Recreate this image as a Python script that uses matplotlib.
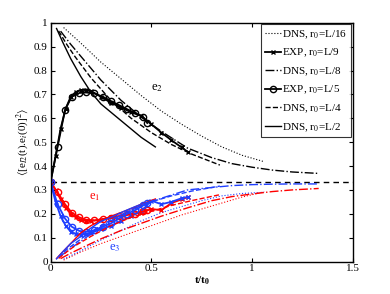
import matplotlib
matplotlib.use("Agg")
from matplotlib import pyplot as plt

plt.rcParams['font.family'] = ['Liberation Serif', 'DejaVu Serif']
plt.rcParams['mathtext.fontset'] = 'stix'

# DNS r0=L/16 (dotted)
t_l16 = [0.065, 0.15, 0.25, 0.35, 0.45, 0.55, 0.65, 0.75, 0.85, 0.95, 1.06]
e2_l16 = [0.98, 0.915, 0.835, 0.765, 0.695, 0.63, 0.575, 0.525, 0.48, 0.445, 0.418]
e1_l16 = [0.006, 0.04, 0.075, 0.105, 0.135, 0.165, 0.195, 0.22, 0.245, 0.27, 0.292]
e3_l16 = [0.01, 0.045, 0.09, 0.13, 0.17, 0.205, 0.23, 0.255, 0.275, 0.285, 0.29]

# DNS r0=L/8 (dash-dot)
t_l8 = [0.05, 0.1, 0.15, 0.25, 0.35, 0.45, 0.55, 0.68, 0.8, 0.9, 1.0, 1.1, 1.2, 1.33]
e2_l8 = [0.965, 0.91, 0.86, 0.76, 0.675, 0.605, 0.545, 0.475, 0.435, 0.41, 0.395, 0.383, 0.375, 0.369]
e1_l8 = [0.012, 0.035, 0.055, 0.095, 0.13, 0.16, 0.19, 0.225, 0.255, 0.272, 0.283, 0.293, 0.30, 0.306]
e3_l8 = [0.023, 0.055, 0.085, 0.145, 0.195, 0.235, 0.265, 0.30, 0.31, 0.318, 0.322, 0.324, 0.325, 0.325]

# DNS r0=L/4 (dashed)
t_l4 = [0.04, 0.08, 0.12, 0.2, 0.3, 0.4, 0.5, 0.6, 0.7, 0.84]
e2_l4 = [0.966, 0.91, 0.86, 0.77, 0.675, 0.60, 0.54, 0.49, 0.45, 0.404]
e1_l4 = [0.013, 0.04, 0.065, 0.105, 0.15, 0.185, 0.21, 0.235, 0.255, 0.28]
e3_l4 = [0.02, 0.05, 0.075, 0.125, 0.175, 0.215, 0.25, 0.275, 0.295, 0.316]

# DNS r0=L/2 (solid)
t_l2 = [0.03, 0.06, 0.1, 0.15, 0.2, 0.25, 0.3, 0.35, 0.4, 0.45, 0.52]
e2_l2 = [0.976, 0.92, 0.85, 0.775, 0.71, 0.66, 0.625, 0.59, 0.555, 0.52, 0.48]
e1_l2 = [0.013, 0.04, 0.075, 0.12, 0.15, 0.172, 0.19, 0.205, 0.222, 0.24, 0.262]
e3_l2 = [0.011, 0.04, 0.075, 0.105, 0.14, 0.168, 0.185, 0.205, 0.223, 0.24, 0.258]

# EXP r0=L/9 (x markers)
t_x9 = [0, 0.025, 0.05, 0.075, 0.1, 0.125, 0.15, 0.175, 0.2, 0.25, 0.3, 0.35, 0.4, 0.45, 0.5, 0.55, 0.6, 0.65, 0.68]
e2_x9 = [0.333, 0.44, 0.557, 0.64, 0.69, 0.71, 0.718, 0.72, 0.715, 0.69, 0.665, 0.645, 0.625, 0.61, 0.575, 0.54, 0.508, 0.478, 0.46]
e1_x9 = [0.333, 0.3, 0.26, 0.225, 0.2, 0.185, 0.175, 0.17, 0.17, 0.175, 0.185, 0.19, 0.2, 0.205, 0.22, 0.215, 0.245, 0.26, 0.27]
e3_x9 = [0.333, 0.25, 0.19, 0.15, 0.125, 0.115, 0.112, 0.115, 0.12, 0.135, 0.15, 0.17, 0.19, 0.21, 0.255, 0.24, 0.25, 0.265, 0.27]

# EXP r0=L/5 (circles)
t_x5 = [0, 0.035, 0.072, 0.105, 0.143, 0.176, 0.217, 0.26, 0.30, 0.34, 0.38, 0.42, 0.46, 0.48]
e2_x5 = [0.333, 0.48, 0.635, 0.69, 0.706, 0.708, 0.704, 0.69, 0.672, 0.655, 0.638, 0.622, 0.605, 0.58]
e1_x5 = [0.333, 0.29, 0.24, 0.205, 0.185, 0.175, 0.172, 0.178, 0.183, 0.19, 0.195, 0.2, 0.21, 0.215]
e3_x5 = [0.333, 0.24, 0.18, 0.146, 0.128, 0.125, 0.13, 0.146, 0.16, 0.18, 0.2, 0.215, 0.235, 0.245]

red = '#ff0000'
blue = '#1f3fff'

fig = plt.figure(figsize=(3.9, 2.94), dpi=100)
ax = fig.add_axes([0.1295, 0.1105, 0.7755, 0.812])

ax.axhline(1 / 3, color='k', ls=(0, (4, 3)), lw=1.0)

h1, = ax.plot(t_l16, e2_l16, color='k', ls=':', lw=0.8, label='DNS, r$_0$=L/16')
ax.plot(t_l16, e1_l16, color=red, ls=':', lw=0.8)
ax.plot(t_l16, e3_l16, color=blue, ls=':', lw=0.8)

h2, = ax.plot(t_x9, e2_x9, color='k', ls='-', lw=1.3, marker='x', ms=3, mew=1, label='EXP, r$_0$=L/9')
ax.plot(t_x9, e1_x9, color=red, ls='-', lw=1.3, marker='x', ms=3, mew=1)
ax.plot(t_x9, e3_x9, color=blue, ls='-', lw=1.3, marker='x', ms=3, mew=1)

h3, = ax.plot(t_l8, e2_l8, color='k', ls='-.', lw=1.0, label='DNS, r$_0$=L/8')
ax.plot(t_l8, e1_l8, color=red, ls='-.', lw=1.0)
ax.plot(t_l8, e3_l8, color=blue, ls='-.', lw=1.0)

h4, = ax.plot(t_x5, e2_x5, color='k', ls='-', lw=1.3, marker='o', ms=4.5, mfc='none', mew=1, label='EXP, r$_0$=L/5')
ax.plot(t_x5, e1_x5, color=red, ls='-', lw=1.3, marker='o', ms=4.5, mfc='none', mew=1)
ax.plot(t_x5, e3_x5, color=blue, ls='-', lw=1.3, marker='o', ms=4.5, mfc='none', mew=1)

h5, = ax.plot(t_l4, e2_l4, color='k', ls='--', lw=1.0, label='DNS, r$_0$=L/4')
ax.plot(t_l4, e1_l4, color=red, ls='--', lw=1.0)
ax.plot(t_l4, e3_l4, color=blue, ls='--', lw=1.0)

h6, = ax.plot(t_l2, e2_l2, color='k', ls='-', lw=1.0, label='DNS, r$_0$=L/2')
ax.plot(t_l2, e1_l2, color=red, ls='-', lw=1.0)
ax.plot(t_l2, e3_l2, color=blue, ls='-', lw=1.0)

ax.text(0.527, 0.726, 'e$_2$', color='k', fontsize=9, ha='center', va='center')
ax.text(0.22, 0.271, 'e$_1$', color=red, fontsize=9, ha='center', va='center')
ax.text(0.32, 0.055, 'e$_3$', color=blue, fontsize=9, ha='center', va='center')

ax.set_xlim(0, 1.5)
ax.set_ylim(0, 1)
ax.set_xticks([0, 0.5, 1, 1.5])
ax.set_xticklabels(['0', '0.5', '1', '1.5'])
ax.set_yticks([i / 10 for i in range(11)])
ax.set_yticklabels(['0', '0.1', '0.2', '0.3', '0.4', '0.5', '0.6', '0.7', '0.8', '0.9', '1'])
ax.tick_params(direction='in', top=True, right=True, labelsize=8, length=3, width=0.8, pad=2)
for s in ax.spines.values():
    s.set_linewidth(1.0)

ax.set_xlabel('t/t$_\\mathbf{0}$', fontsize=8, fontweight='bold', labelpad=1)
ax.set_ylabel(r'$\langle$[e$_{I2}$(t).e$_i$(0)]$^2\rangle$', fontsize=8, labelpad=2)

leg = ax.legend(handles=[h1, h2, h3, h4, h5, h6], loc='upper right', fontsize=8,
                frameon=True, fancybox=False, edgecolor='k', handlelength=1.4,
                handletextpad=0.15, borderpad=0.35, labelspacing=0.55,
                borderaxespad=0.15)
leg.get_frame().set_linewidth(0.8)
for h in leg.legend_handles:
    h.set_color('k')

fig.savefig('out.png', dpi=100)
